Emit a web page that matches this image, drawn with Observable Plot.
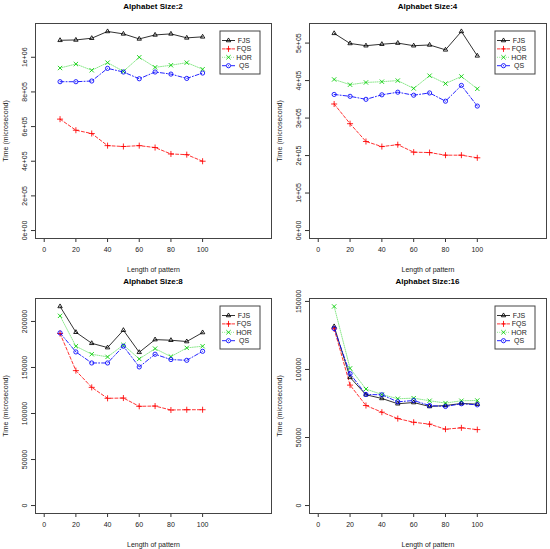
<!DOCTYPE html>
<html><head><meta charset="utf-8">
<script src="https://cdn.jsdelivr.net/npm/d3@7"></script>
<script src="https://cdn.jsdelivr.net/npm/@observablehq/plot@0.6"></script>
<style>
body{margin:0;background:#fff;font-family:"Liberation Sans",Arial,sans-serif;}
#wrap{position:relative;width:550px;height:549px;overflow:hidden;}
.cell{position:absolute;width:275px;height:275px;}
.title{position:absolute;top:0;font-weight:bold;font-size:8px;text-align:center;line-height:14px;color:#000;}
</style></head><body><div id="wrap"></div>
<script>
const patternLengths = [10,20,30,40,50,60,70,80,90,100];
const xTicks = [0,20,40,60,80,100];
const seriesNames = ["FJS","FQS","HOR","QS"];
const seriesColors = ["#000000","#FF0000","#00CD00","#0000FF"];
const lineOpacity = [0.8,0.8,0.45,0.85];
const seriesDash = ["none","3,2","1,1.2","4,2,1,2"];
const seriesSymbols = ["triangle2","plus","times","circle"];
const panelTitles = ["Alphabet Size:2","Alphabet Size:4","Alphabet Size:8","Alphabet Size:16"];

// Alphabet size 2
const fjs2 = [1098000,1100000,1110000,1149000,1135000,1106000,1129000,1135000,1112000,1118000];
const fqs2 = [643000,579000,560000,490000,485000,490000,479000,442000,438000,400000];
const hor2 = [938000,961000,925000,969000,919000,1000000,942000,954000,969000,931000];
const qs2  = [859000,859000,863000,936000,915000,876000,915000,903000,878000,909000];
// Alphabet size 4
const fjs4 = [526000,499000,493000,497000,500000,493000,495000,482000,531000,466000];
const fqs4 = [337500,285000,237500,224000,229000,209000,208000,201000,201000,194000];
const hor4 = [403000,389000,395000,397000,400000,379000,413000,392000,411000,378000];
const qs4  = [363000,358000,350000,362000,369000,361000,367000,345000,387000,332000];
// Alphabet size 8
const fjs8 = [216300,188300,176300,171600,190500,166500,180300,179600,178200,188000];
const fqs8 = [186900,146600,128400,116500,116800,107800,108100,103800,104100,104100];
const hor8 = [206100,173100,164400,161500,174500,159300,170500,161800,171300,173100];
const qs8  = [187600,166900,154900,154900,173100,150600,164400,158600,157800,167600];
// Alphabet size 16
const fjs16 = [131600,94200,81400,78700,74800,75700,72800,73500,75000,74500];
const fqs16 = [129900,88500,73500,68600,63900,61200,59800,56100,57100,55800];
const hor16 = [146300,100800,85600,81600,78500,78900,77000,75300,77000,77200];
const qs16  = [130100,96900,81600,81400,76200,77200,73500,72800,74800,74000];

const yTicks2 = [0,200000,400000,600000,800000,1000000];
const yTickLabels2 = ["0e+00","2e+05","4e+05","6e+05","8e+05","1e+06"];
const yTicks4 = [0,100000,200000,300000,400000,500000];
const yTickLabels4 = ["0e+00","1e+05","2e+05","3e+05","4e+05","5e+05"];
const yTicks8 = [0,50000,100000,150000,200000];
const yTickLabels8 = ["0","50000","100000","150000","200000"];
const yTicks16 = [0,50000,100000,150000];
const yTickLabels16 = ["0","50000","100000","150000"];

const panels = [
  {title: panelTitles[0], series: [fjs2,fqs2,hor2,qs2], ticks: yTicks2, labels: yTickLabels2, left: 0, top: 0, ml: 35},
  {title: panelTitles[1], series: [fjs4,fqs4,hor4,qs4], ticks: yTicks4, labels: yTickLabels4, left: 275, top: 0, ml: 34},
  {title: panelTitles[2], series: [fjs8,fqs8,hor8,qs8], ticks: yTicks8, labels: yTickLabels8, left: 0, top: 275, ml: 35},
  {title: panelTitles[3], series: [fjs16,fqs16,hor16,qs16], ticks: yTicks16, labels: yTickLabels16, left: 275, top: 275, ml: 34}
];

const W = 275, H = 275, MT = 23, MB = 37, MR = 4;
const R = 2.1;
const wrap = document.getElementById("wrap");

panels.forEach(p => {
  const cell = document.createElement("div");
  cell.className = "cell";
  cell.style.left = p.left + "px";
  cell.style.top = p.top + "px";
  wrap.appendChild(cell);

  const rows = [];
  p.series.forEach((vals, si) => {
    vals.forEach((v, i) => rows.push({name: seriesNames[si], x: patternLengths[i], y: v}));
  });
  const ymax = d3.max(rows, d => d.y);
  const pad = ymax * 0.04;

  const marks = [];
  seriesNames.forEach((name, si) => {
    const data = rows.filter(d => d.name === name);
    marks.push(Plot.line(data, {x: "x", y: "y", stroke: seriesColors[si], strokeWidth: 1,
      strokeOpacity: lineOpacity[si],
      strokeDasharray: seriesDash[si] === "none" ? null : seriesDash[si]}));
  });
  seriesNames.forEach((name, si) => {
    const data = rows.filter(d => d.name === name);
    marks.push(Plot.dot(data, {x: "x", y: "y", stroke: seriesColors[si], fill: "none",
      strokeWidth: 1, strokeOpacity: 0.85, r: R, symbol: seriesSymbols[si]}));
  });

  const fmt = new Map(p.ticks.map((t, i) => [t, p.labels[i]]));
  const chart = Plot.plot({
    width: W, height: H,
    marginTop: MT, marginBottom: MB, marginLeft: p.ml, marginRight: MR,
    style: {fontFamily: "'Liberation Sans', Arial, sans-serif", fontSize: "7px", color: "#000", background: "white"},
    x: {domain: [-5.5, 143.5]},
    y: {domain: [-pad, ymax + pad]},
    marks: [
      Plot.axisX({ticks: xTicks, tickSize: 4, tickPadding: 5, fontSize: 7, stroke: "#333", fill: "#222",
        label: "Length of pattern", labelAnchor: "center", labelOffset: 33, labelArrow: "none"}),
      Plot.axisY({ticks: p.ticks, tickFormat: d => fmt.get(d), tickSize: 4, tickPadding: 5, stroke: "#333", fill: "#222",
        tickRotate: -90, textAnchor: "middle", lineAnchor: "bottom", fontSize: 7,
        label: "Time (microsecond)", labelAnchor: "center", labelOffset: 32, labelArrow: "none"}),
      ...marks,
      Plot.frame({stroke: "#444", strokeWidth: 1})
    ]
  });
  cell.appendChild(chart);

  // title
  const t = document.createElement("div");
  t.className = "title";
  t.style.left = p.ml + "px";
  t.style.width = (W - p.ml - MR) + "px";
  t.textContent = p.title;
  cell.appendChild(t);

  // legend
  const svg = d3.select(chart);
  const lx = 220, ly = 31, lw = 40, lh = 43;
  const g = svg.append("g");
  g.append("rect").attr("x", lx).attr("y", ly).attr("width", lw).attr("height", lh)
    .attr("fill", "white").attr("stroke", "#444").attr("stroke-width", 1);
  const symMap = {triangle2: d3.symbolTriangle2, plus: d3.symbolPlus, times: d3.symbolTimes, circle: d3.symbolCircle};
  seriesNames.forEach((name, si) => {
    const yy = ly + 9.5 + si * 8.4;
    g.append("line").attr("x1", lx + 2).attr("x2", lx + 15).attr("y1", yy).attr("y2", yy)
      .attr("stroke", seriesColors[si]).attr("stroke-width", 1).attr("stroke-opacity", lineOpacity[si])
      .attr("stroke-dasharray", seriesDash[si] === "none" ? null : seriesDash[si]);
    g.append("path").attr("transform", `translate(${lx + 8.5},${yy})`)
      .attr("d", d3.symbol(symMap[seriesSymbols[si]], Math.PI * R * R)())
      .attr("fill", "none").attr("stroke", seriesColors[si]).attr("stroke-width", 1).attr("stroke-opacity", 0.85);
    g.append("text").attr("x", lx + 24).attr("y", yy).attr("dy", "0.35em")
      .attr("font-size", 7).attr("fill", "#222").attr("font-family", "'Liberation Sans', Arial, sans-serif").text(name);
  });
});
</script></body></html>
